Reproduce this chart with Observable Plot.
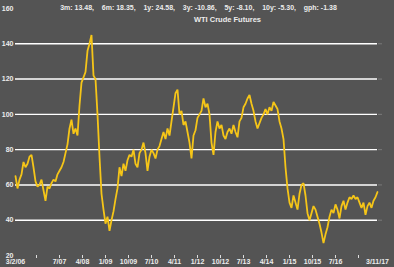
<!DOCTYPE html>
<html><head><meta charset="utf-8">
<script src="https://cdn.jsdelivr.net/npm/d3@7"></script>
<script src="https://cdn.jsdelivr.net/npm/@observablehq/plot@0.6"></script>
<style>
html,body{margin:0;padding:0;background:#545454;overflow:hidden;}
</style></head><body><div id="chart"></div>
<script>
// WTI crude futures, sampled evenly from 3/2/06 to 3/11/17
const wti = [
  65,58,63,66,73,70,72,76,77,70,
  62,59,60,63,57,51,59,58,61,63,
  62,66,68,70,73,78,83,92,97,89,
  92,88,105,118,121,124,136,140,145,122,
  120,100,76,55,46,38,42,34,40,45,
  52,58,70,65,72,68,74,77,76,80,
  72,70,78,80,84,78,68,76,80,78,
  75,80,82,86,90,86,92,88,96,104,
  112,114,100,102,94,96,90,84,75,88,
  91,98,100,102,109,104,106,100,84,77,
  90,96,92,94,88,86,90,92,89,94,
  90,87,96,98,104,106,109,111,106,102,
  96,92,95,98,100,103,100,104,102,107,
  105,103,96,92,86,70,58,50,47,54,
  50,46,55,60,61,54,44,40,44,48,
  46,42,38,33,27,32,36,42,46,44,
  49,46,41,48,51,46,50,53,52,54,
  52,53,50,47,50,43,48,50,47,51,
  53,56
];
const yTicks = [20, 40, 60, 80, 100, 120, 140, 160];
const gridVals = [40, 60, 80, 100, 120, 140];
const tickIdx = [10.5, 22, 33.5, 45, 56.5, 68, 79.5, 91, 102.5, 114, 125.5, 137, 148.5, 160, 171.5];
const tickLabels = ["", "7/07", "4/08", "1/09", "10/09", "7/10", "4/11", "1/12", "10/12", "7/13", "4/14", "1/15", "10/15", "7/16", ""];
const endLabels = ["3/2/06", "3/11/17"];
const stats = ["3m: 13.48,", "6m: 18.35,", "1y: 24.58,", "3y: -10.86,", "5y: -8.10,", "10y: -5.30,", "gph: -1.38"];
const title = "WTI Crude Futures";

const data = wti.map((v, i) => ({i, v}));
const last = wti.length - 1;
const tickMap = new Map(tickIdx.map((t, k) => [t, tickLabels[k]]));
const endMap = new Map([[0, endLabels[0]], [last, endLabels[1]]]);
const statsText = stats.join("\u00a0\u00a0\u00a0\u00a0");

const plot = Plot.plot({
  width: 394, height: 267,
  marginLeft: 15, marginRight: 17, marginTop: 8, marginBottom: 12,
  style: {background: "#545454", color: "#ececec", fontFamily: "'Liberation Sans', Arial, sans-serif", fontSize: "7px", fontWeight: "bold"},
  x: {domain: [0, last], axis: null},
  y: {domain: [20, 160], axis: null},
  marks: [
    Plot.ruleY(gridVals, {stroke: "#ffffff", strokeWidth: 1.4}),
    Plot.axisY(gridVals, {anchor: "right", tickSize: 4, stroke: "#7a7a7a", tickFormat: () => "", label: null}),
    Plot.axisY(yTicks, {anchor: "left", tickSize: 0, tickPadding: 2, label: null}),
    Plot.axisX(tickIdx, {anchor: "bottom", tickSize: 3, tickPadding: 1, stroke: "#dddddd", tickFormat: d => tickMap.get(d), label: null}),
    Plot.axisX([0, last], {anchor: "bottom", tickSize: 0, tickPadding: 4, tickFormat: d => endMap.get(d), label: null}),
    Plot.line(data, {x: "i", y: "v", stroke: "#f5c518", strokeWidth: 1.8, strokeLinejoin: "miter"}),
    Plot.text([statsText], {frameAnchor: "top", dx: 2, dy: -3.5, text: d => d, fill: "#ececec", fontSize: 7, fontWeight: "bold"}),
    Plot.text([title], {frameAnchor: "top", dx: 31, dy: 8, text: d => d, fill: "#ececec", fontSize: 7.5, fontWeight: "bold"})
  ]
});
document.getElementById("chart").appendChild(plot);
</script></body></html>
